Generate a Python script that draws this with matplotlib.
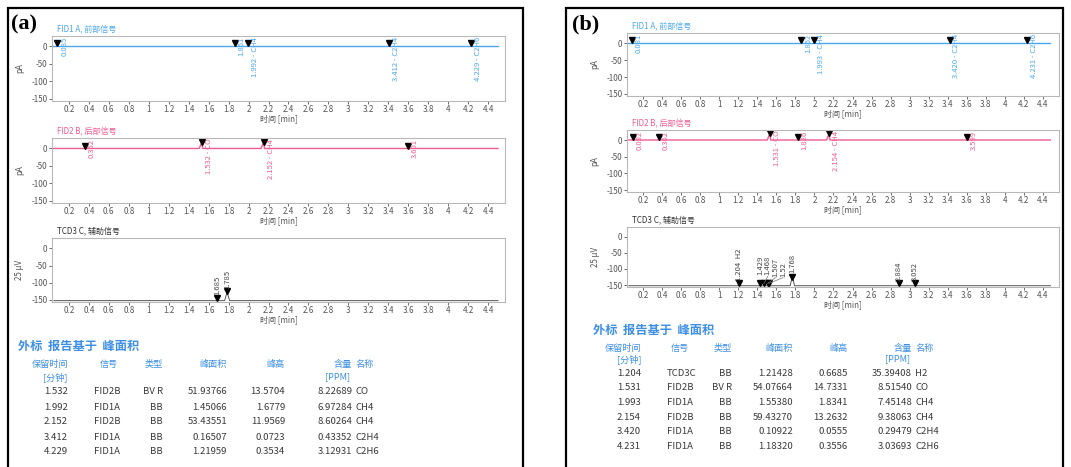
import numpy as np
import matplotlib
matplotlib.use('Agg')
import matplotlib.pyplot as plt
from matplotlib.patches import Rectangle

plt.rcParams['font.family'] = ['Noto Sans CJK SC', 'DejaVu Sans']
plt.rcParams['axes.unicode_minus'] = False

W, H = 1071, 467

# ---------- (a) 色谱数据 ----------
a_fid1_x = [0.04, 4.50]
a_fid1_y = [0, 0]
a_fid1_rt = [0.085, 1.861, 1.992, 3.412, 4.229]
a_fid1_mark = [9, 9, 9, 9, 9]
a_fid1_lab = ['0.085', '1.861', '1.992 - CH4', '3.412 - C2H4', '4.229 - C2H6']

a_fid2_x = [0.04, 1.505, 1.532, 1.540, 2.125, 2.152, 2.160, 4.50]
a_fid2_y = [0, 0, 18, 0, 0, 18, 0, 0]
a_fid2_rt = [0.362, 1.532, 2.152, 3.601]
a_fid2_mark = [8, 19, 19, 8]
a_fid2_lab = ['0.362', '1.532 - CO', '2.152 - CH4', '3.601']

a_tcd_x = [0.05, 1.760, 1.785, 1.810, 4.50]
a_tcd_y = [-152, -152, -127, -152, -152]
a_tcd_rt = [1.685, 1.785]
a_tcd_mark = [-144, -125]
a_tcd_lab = ['1.685', '1.785']
a_tcd_labx = [1.685, 1.785]
a_tcd_laby = [-136, -117]

# ---------- (b) 色谱数据 ----------
b_fid1_x = [0.04, 4.48]
b_fid1_y = [0, 0]
b_fid1_rt = [0.081, 1.862, 1.993, 3.420, 4.231]
b_fid1_mark = [9, 9, 9, 9, 9]
b_fid1_lab = ['0.081', '1.862', '1.993 - CH4', '3.420 - C2H4', '4.231 - C2H6']

b_fid2_x = [0.04, 1.505, 1.531, 1.540, 2.128, 2.154, 2.162, 4.48]
b_fid2_y = [0, 0, 20, 0, 0, 20, 0, 0]
b_fid2_rt = [0.092, 0.362, 1.531, 1.826, 2.154, 3.599]
b_fid2_mark = [9, 9, 20, 9, 20, 9]
b_fid2_lab = ['0.092', '0.362', '1.531 - CO', '1.826', '2.154 - CH4', '3.599']

b_tcd_x = [0.05, 1.745, 1.768, 1.790, 4.48]
b_tcd_y = [-152, -152, -122, -152, -152]
b_tcd_rt = [1.204, 1.429, 1.468, 1.507, 1.520, 1.768, 2.884, 3.052]
b_tcd_mark = [-145, -145, -145, -145, -145, -124, -145, -145]
b_tcd_lab = ['1.204  H2', '1.429', '1.468', '1.507', '1.52', '1.768', '2.884', '3.052']
b_tcd_labx = [1.204, 1.429, 1.51, 1.59, 1.67, 1.768, 2.884, 3.052]
b_tcd_laby = [-137, -120, -120, -124, -124, -114, -137, -137]

# ---------- 报告表格 ----------
a_rt = [1.532, 1.992, 2.152, 3.412, 4.229]
a_sig = ['FID2B', 'FID1A', 'FID2B', 'FID1A', 'FID1A']
a_type = ['BV R', 'BB', 'BB', 'BB', 'BB']
a_area = [51.93766, 1.45066, 53.43551, 0.16507, 1.21959]
a_height = [13.5704, 1.6779, 11.9569, 0.0723, 0.3534]
a_amount = [8.22689, 6.97284, 8.60264, 0.43352, 3.12931]
a_name = ['CO', 'CH4', 'CH4', 'C2H4', 'C2H6']

b_rt = [1.204, 1.531, 1.993, 2.154, 3.420, 4.231]
b_sig = ['TCD3C', 'FID2B', 'FID1A', 'FID2B', 'FID1A', 'FID1A']
b_type = ['BB', 'BV R', 'BB', 'BB', 'BB', 'BB']
b_area = [1.21428, 54.07664, 1.55380, 59.43270, 0.10922, 1.18320]
b_height = [0.6685, 14.7331, 1.8341, 13.2632, 0.0555, 0.3556]
b_amount = [35.39408, 8.51540, 7.45148, 9.38063, 0.29479, 3.03693]
b_name = ['H2', 'CO', 'CH4', 'CH4', 'C2H4', 'C2H6']

xticks = [0.2, 0.4, 0.6, 0.8, 1, 1.2, 1.4, 1.6, 1.8, 2, 2.2, 2.4, 2.6, 2.8, 3,
          3.2, 3.4, 3.6, 3.8, 4, 4.2, 4.4]
yticks = [0, -50, -100, -150]

BLUE = '#4aa8ee'
PINK = '#f25c93'
GRAY = '#555555'
HEAD = '#3d8fe6'

fig = plt.figure(figsize=(W / 100, H / 100), dpi=100)


def rect(x0, y0, x1, y1):
    return [x0 / W, 1 - y1 / H, (x1 - x0) / W, (y1 - y0) / H]


def ftext(x, y, s, **kw):
    fig.text(x / W, 1 - y / H, s, **kw)


def chart(px, title, tcolor, ylab, tx, ty, lcolor, rt, mark, labs, txtcolor,
          tcd=False, labx=None, laby=None):
    x0, y0, x1, y1 = px
    ax = fig.add_axes(rect(x0, y0, x1, y1))
    ax.set_xlim(0.03, 4.57)
    ax.set_ylim(-156, 30)
    ax.set_xticks(xticks)
    ax.set_xticklabels(['%g' % t for t in xticks])
    ax.set_yticks(yticks)
    ax.tick_params(labelsize=5.8, colors=GRAY, length=2, width=0.6, pad=1.2)
    for s in ax.spines.values():
        s.set_color('#b8b8b8')
        s.set_linewidth(0.8)
    ax.plot(tx, ty, color=lcolor, lw=1.0 if not tcd else 0.7)
    ax.plot(rt, mark, 'v', color='black', ms=3.8)
    if tcd:
        for r, m, s, lx, ly in zip(rt, mark, labs, labx, laby):
            if abs(lx - r) > 0.01:
                ax.plot([r, lx], [m, ly - 3], color='#777777', lw=0.5)
            ax.text(lx, ly, s, rotation=90, ha='center', va='bottom',
                    fontsize=5.5, color=txtcolor)
    else:
        for r, s in zip(rt, labs):
            ax.text(r + 0.03, 28, s, rotation=90, ha='left', va='top',
                    fontsize=5.5, color=txtcolor)
    ftext(x0 + 5, y0 - 7, title, fontsize=5.8, color=tcolor, va='center')
    ftext((x0 + x1) / 2, y1 + 18, '时间 [min]', fontsize=5.8, color=GRAY,
          ha='center', va='center')
    ftext(x0 - 32, (y0 + y1) / 2, ylab, fontsize=5.8, color=GRAY, rotation=90,
          ha='center', va='center')
    return ax


# (a)
chart((52, 36, 505, 101), 'FID1 A, 前部信号', BLUE, 'pA', a_fid1_x, a_fid1_y, BLUE,
      a_fid1_rt, a_fid1_mark, a_fid1_lab, BLUE)
chart((52, 138, 505, 203), 'FID2 B, 后部信号', PINK, 'pA', a_fid2_x, a_fid2_y, PINK,
      a_fid2_rt, a_fid2_mark, a_fid2_lab, PINK)
chart((52, 238, 505, 302), 'TCD3 C, 辅助信号', '#333333', '25 μV', a_tcd_x, a_tcd_y,
      '#555555', a_tcd_rt, a_tcd_mark, a_tcd_lab, '#444444', tcd=True,
      labx=a_tcd_labx, laby=a_tcd_laby)

# (b)
chart((627, 33, 1059, 96), 'FID1 A, 前部信号', BLUE, 'pA', b_fid1_x, b_fid1_y, BLUE,
      b_fid1_rt, b_fid1_mark, b_fid1_lab, BLUE)
chart((627, 130, 1059, 192), 'FID2 B, 后部信号', PINK, 'pA', b_fid2_x, b_fid2_y, PINK,
      b_fid2_rt, b_fid2_mark, b_fid2_lab, PINK)
chart((627, 227, 1059, 287), 'TCD3 C, 辅助信号', '#333333', '25 μV', b_tcd_x, b_tcd_y,
      '#555555', b_tcd_rt, b_tcd_mark, b_tcd_lab, '#444444', tcd=True,
      labx=b_tcd_labx, laby=b_tcd_laby)


def table(tx, ty, hy1, hy2, ry, dy, cols, rt, sig, typ, area, height, amount, name):
    c_rt, c_sig, c_typ, c_area, c_h, c_amt, c_name, c_sigh = cols
    ftext(tx, ty, '外标  报告基于  峰面积', fontsize=8.8, color=HEAD, fontweight='bold',
          va='center')
    hk = dict(fontsize=6.6, color=HEAD, va='center')
    ftext(c_rt, hy1, '保留时间', ha='right', **hk)
    ftext(c_rt, hy2, '[分钟]', ha='right', **hk)
    ftext(c_sigh, hy1, '信号', ha='right', **hk)
    ftext(c_typ, hy1, '类型', ha='right', **hk)
    ftext(c_area, hy1, '峰面积', ha='right', **hk)
    ftext(c_h, hy1, '峰高', ha='right', **hk)
    ftext(c_amt, hy1, '含量', ha='right', **hk)
    ftext(c_amt - 2, hy2, '[PPM]', ha='right', **hk)
    ftext(c_name + 1, hy1, '名称', ha='left', **hk)
    bk = dict(fontsize=6.9, color='#3a3a3a', va='center')
    for i in range(len(rt)):
        y = ry + dy * i
        ftext(c_rt, y, '%.3f' % rt[i], ha='right', **bk)
        ftext(c_sig, y, sig[i], ha='left', **bk)
        ftext(c_typ, y, typ[i], ha='right', **bk)
        ftext(c_area, y, '%.5f' % area[i], ha='right', **bk)
        ftext(c_h, y, '%.4f' % height[i], ha='right', **bk)
        ftext(c_amt, y, '%.5f' % amount[i], ha='right', **bk)
        ftext(c_name, y, name[i], ha='left', **bk)


table(18, 346, 364, 377, 392, 15, (68, 94, 163, 227, 285, 352, 355, 118),
      a_rt, a_sig, a_type, a_area, a_height, a_amount, a_name)
table(593, 330, 348, 359, 373, 14.7, (641, 667, 732, 793, 848, 912, 915, 689),
      b_rt, b_sig, b_type, b_area, b_height, b_amount, b_name)

# 外框和面板标记
for x0, x1 in [(8, 523), (566, 1063)]:
    fig.patches.append(Rectangle((x0 / W, -0.05), (x1 - x0) / W, 1.05 - 8 / H,
                                 transform=fig.transFigure, fill=False,
                                 lw=1.6, edgecolor='black'))
ftext(11, 24, '(a)', fontsize=16, fontweight='bold', family='Liberation Serif',
      va='center')
ftext(572, 24, '(b)', fontsize=16, fontweight='bold', family='Liberation Serif',
      va='center')

fig.savefig('out.png', dpi=100)
